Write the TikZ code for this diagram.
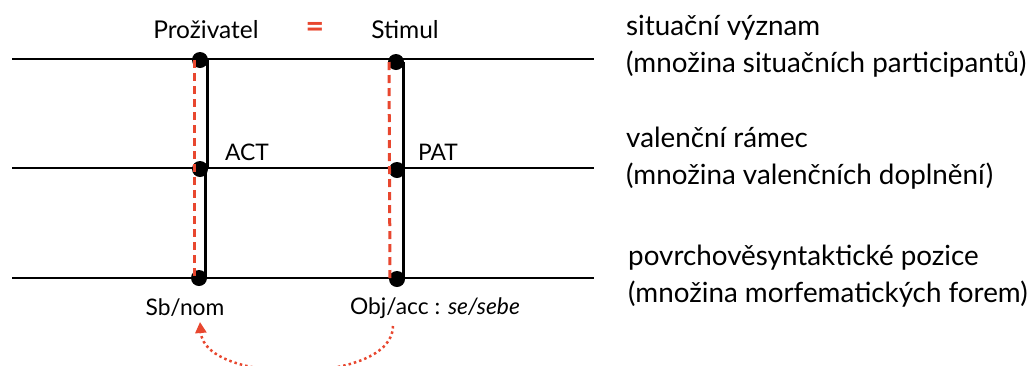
\documentclass[tikz,border=0pt]{standalone}
\usepackage{fontspec}
\setmainfont{Lato}
\usetikzlibrary{arrows.meta}
\definecolor{myred}{HTML}{E8472F}
\tikzset{
  dot/.style={circle,fill=black,inner sep=0pt,minimum size=16pt},
  level/.style={line width=2pt,black},
  link/.style={line width=3pt,black},
  redlink/.style={line width=3pt,myred,dash pattern=on 8pt off 5pt},
  lab/.style={font=\fontsize{22.8}{27}\selectfont,inner sep=0pt},
  toplab/.style={font=\fontsize{24.5}{29}\selectfont,inner sep=0pt},
  rlab/.style={font=\fontsize{27.8}{37}\selectfont,inner sep=0pt,anchor=base west,align=left},
  arr/.style={myred,line width=2.5pt,dash pattern=on 2.5pt off 3pt,-{Triangle[length=11pt,width=11pt]}}
}
\begin{document}
\begin{tikzpicture}[x=1pt,y=-1pt]
\useasboundingbox (0,0) rectangle (1030,365);
% level lines
\coordinate (a1) at (12,59); \coordinate (b1) at (594,59);
\coordinate (a2) at (12,168); \coordinate (b2) at (594,168);
\coordinate (a3) at (12,278); \coordinate (b3) at (594,278);
\draw[level] (a1) -- (b1);
\draw[level] (a2) -- (b2);
\draw[level] (a3) -- (b3);
% dots
\node[dot] (d1) at (200,60) {};
\node[dot] (d2) at (200,169) {};
\node[dot] (d3) at (199,278) {};
\node[dot] (e1) at (396,62) {};
\node[dot] (e2) at (397,170) {};
\node[dot] (e3) at (397,279) {};
% links
\draw[redlink] ([xshift=-6pt]d1.center) -- ([xshift=-5pt]d3.center);
\draw[link] ([xshift=7pt]d1.center) -- ([xshift=7pt]d2.center);
\draw[link] ([xshift=5pt]d2.center) -- ([xshift=6pt]d3.center);
\draw[redlink] ([xshift=-7pt]e1.center) -- ([xshift=-7pt]e3.center);
\draw[link] ([xshift=7pt]e1.center) -- ([xshift=6pt]e2.center);
\draw[link] ([xshift=6pt]e2.center) -- ([xshift=6pt]e3.center);
% labels
\node[toplab] (pro) at (206,30) {Proživatel};
\node[lab,text=myred,font=\fontsize{32}{32}\selectfont\bfseries] (eq) at (315,30) {=};
\node[toplab] (sti) at (405,30) {Stimul};
\node[lab] (act) at (247,152) {ACT};
\node[lab] (pat) at (438,152) {PAT};
\node[lab] (sb) at (185,308) {Sb/nom};
\node[lab] (obj) at (435,308) {Obj/acc : \textit{se/sebe}};
% right texts
\node[rlab] (r1) at (626,72) {situační význam\\(množina situačních participantů)};
\node[rlab] (r2) at (626,184) {valenční rámec\\(množina valenčních doplnění)};
\node[rlab] (r3) at (628,302) {povrchověsyntaktické pozice\\(množina morfematických forem)};
% arrow
\coordinate (as) at (393,326);
\coordinate (ae) at (200,322);
\draw[arr] (as) .. controls (393,385) and (205,385) .. (ae);
\end{tikzpicture}
\end{document}
